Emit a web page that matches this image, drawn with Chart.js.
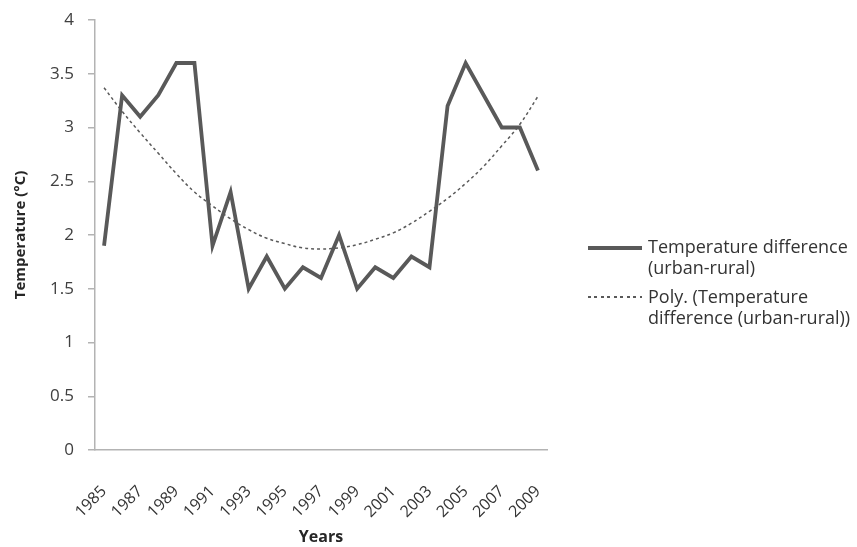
<!DOCTYPE html>
<html>
<head>
<meta charset="utf-8">
<script src="https://cdn.jsdelivr.net/npm/chart.js@4.4.0/dist/chart.umd.min.js"></script>
<style>
  html, body { margin: 0; padding: 0; background: #fff; }
  #wrap { position: relative; width: 857px; height: 547px; }
  #legend { position: absolute; left: 588px; top: 236px; font-family: "Open Sans", sans-serif; font-size: 18px; color: #333; line-height: 21px; }
  .lg-row { display: flex; align-items: flex-start; margin-bottom: 8px; }
  .lg-swatch { width: 54px; margin-right: 6px; }
  .solid { height: 3.5px; background: #595959; margin-top: 10px; }
  .dotted { height: 1.5px; margin-top: 10px; background: repeating-linear-gradient(to right, #595959 0 3px, transparent 3px 6.5px); }
</style>
</head>
<body>
<div id="wrap">
  <canvas id="c" width="857" height="547"></canvas>
  <div id="legend">
    <div class="lg-row"><div class="lg-swatch solid"></div><div>Temperature difference<br>(urban-rural)</div></div>
    <div class="lg-row"><div class="lg-swatch dotted"></div><div>Poly. (Temperature<br>difference (urban-rural))</div></div>
  </div>
</div>
<script>
// ——— DATA ———
const years = ['1985','1986','1987','1988','1989','1990','1991','1992','1993','1994','1995','1996','1997',
               '1998','1999','2000','2001','2002','2003','2004','2005','2006','2007','2008','2009'];
const tempDiff = [1.9, 3.3, 3.1, 3.3, 3.6, 3.6, 1.9, 2.4, 1.5, 1.8, 1.5, 1.7, 1.6,
                  2.0, 1.5, 1.7, 1.6, 1.8, 1.7, 3.2, 3.6, 3.3, 3.0, 3.0, 2.6];
// polynomial trendline
const polyTrend = [3.37, 3.15, 2.95, 2.76, 2.57, 2.40, 2.27, 2.15, 2.05, 1.97, 1.92, 1.88, 1.87,
                   1.88, 1.91, 1.96, 2.02, 2.11, 2.22, 2.34, 2.48, 2.64, 2.83, 3.03, 3.29];
const yTicks = [0, 0.5, 1, 1.5, 2, 2.5, 3, 3.5, 4];

const FONT = '"Open Sans", sans-serif';
const axisGray = '#b3b3b3';

new Chart(document.getElementById('c').getContext('2d'), {
  type: 'line',
  data: {
    labels: years,
    datasets: [
      { data: tempDiff, borderColor: '#595959', borderWidth: 3.8, pointRadius: 0, tension: 0, borderJoinStyle: 'miter' },
      { data: polyTrend, borderColor: '#595959', borderWidth: 1.5, borderDash: [3, 3], pointRadius: 0, tension: 0.4 }
    ]
  },
  options: {
    responsive: false,
    animation: false,
    layout: { padding: { top: 20, right: 310, left: 0, bottom: 0 } },
    plugins: { legend: { display: false }, tooltip: { enabled: false } },
    scales: {
      x: {
        offset: true,
        grid: { display: false },
        border: { display: true, color: axisGray, width: 1.5 },
        ticks: {
          autoSkip: false, maxRotation: 45, minRotation: 45, padding: 24,
          color: '#333', font: { family: FONT, size: 16 },
          callback: (v, i) => (i % 2 === 0 ? years[i] : '')
        },
        title: { display: true, text: 'Years', color: '#262626', font: { family: FONT, size: 16, weight: 'bold' }, padding: { top: 0, bottom: 0 } },
        afterFit: s => { s.height = 97; }
      },
      y: {
        min: 0, max: 4,
        afterBuildTicks: s => { s.ticks = yTicks.map(v => ({ value: v })); },
        grid: { drawOnChartArea: false, drawTicks: true, tickLength: 7, color: axisGray, lineWidth: 1.5 },
        border: { display: true, color: axisGray, width: 1.5 },
        ticks: { color: '#404040', font: { family: FONT, size: 17 }, padding: 14, callback: v => String(v) },
        title: { display: true, text: 'Temperature (°C)', color: '#262626', font: { family: FONT, size: 15, weight: 'bold' }, padding: { top: 12, bottom: 0 } },
        afterFit: s => { s.width = 95; s.paddingTop = 10; s.paddingBottom = 10; }
      }
    }
  }
});
</script>
</body>
</html>
